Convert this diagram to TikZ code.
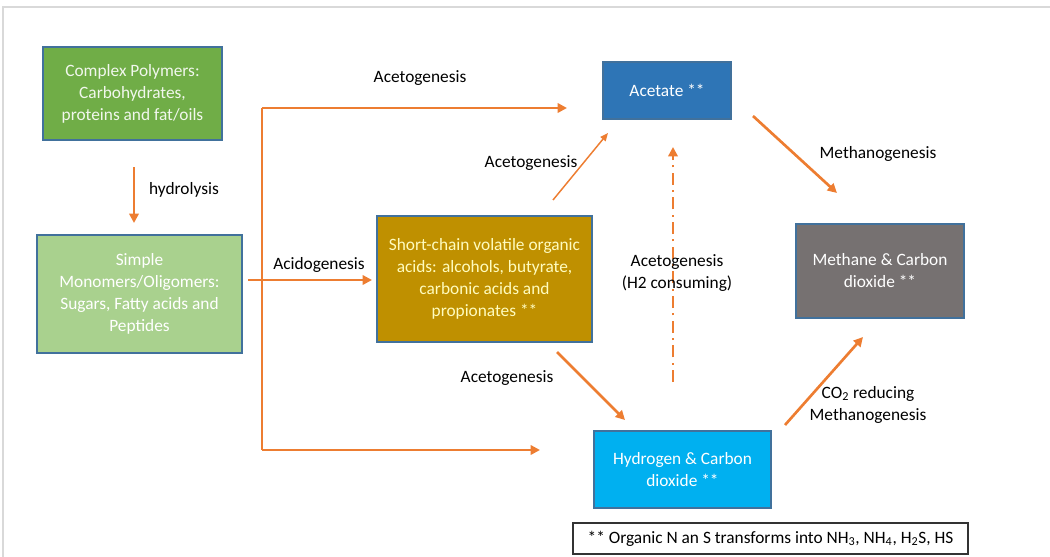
\documentclass[tikz,border=0pt]{standalone}
\usepackage{fontspec}
\setmainfont{Carlito}
\usetikzlibrary{arrows.meta}
\definecolor{flow}{HTML}{ED7D31}
\definecolor{edge}{HTML}{41719C}
\definecolor{polyG}{HTML}{70AD47}
\definecolor{monoG}{HTML}{A9D18E}
\definecolor{acidY}{HTML}{BF9000}
\definecolor{acetB}{HTML}{2E75B6}
\definecolor{methG}{HTML}{767171}
\definecolor{hydB}{HTML}{00B0F0}
\definecolor{frameG}{HTML}{D9D9D9}
\begin{document}
\begin{tikzpicture}[x=0.75pt,y=-0.75pt,
  every node/.style={font=\fontsize{13}{16.5}\selectfont, inner sep=0pt},
  stage/.style={draw=edge, line width=0.8pt, text=white, align=center},
  lbl/.style={text=black, align=center},
  flowline/.style={draw=flow, line width=2pt, -{Triangle[length=7pt,width=7pt]}},
  thinflow/.style={draw=flow, line width=1.1pt, -{Triangle[length=6pt,width=5pt]}}]
  \useasboundingbox (0,0) rectangle (1050,557);
  % outer frame
  \draw[frameG, line width=1.5pt] (3,557) -- (3,7) -- (1050,7);

  % stages
  \node[stage, fill=polyG, text=white!90!polyG, minimum width=134.25pt, minimum height=69.75pt] (poly) at (132.5,93.5)
    {Complex Polymers:\\Carbohydrates,\\proteins and fat/oils};
  \node[stage, fill=monoG, minimum width=153.75pt, minimum height=88.5pt] (mono) at (139.5,294)
    {Simple\\Monomers/Oligomers:\\Sugars, Fatty acids and\\Peptides};
  \node[stage, fill=acidY, text=yellow!25, minimum width=161.25pt, minimum height=94.5pt] (acid) at (484.5,279)
    {Short-chain volatile organic\\acids: alcohols, butyrate,\\carbonic acids and\\propionates **};
  \node[stage, fill=acetB, minimum width=96pt, minimum height=42.75pt] (acet) at (667,90.5) {Acetate **};
  \node[stage, fill=methG, minimum width=126pt, minimum height=70.5pt] (meth) at (880,271)
    {Methane \& Carbon\\dioxide **};
  \node[stage, fill=hydB, minimum width=132.75pt, minimum height=57.75pt] (hyd) at (682.5,469.5)
    {Hydrogen \& Carbon\\dioxide **};
  \node[draw=black!80, line width=1pt, minimum width=296.25pt, minimum height=23.25pt] (note) at (770.5,538.5)
    {** Organic N an S transforms into NH\textsubscript{3}, NH\textsubscript{4}, H\textsubscript{2}S, HS};

  % connector end points
  \coordinate (hydA) at (134,167);
  \coordinate (hydB) at (134,223);
  \coordinate (brT) at (262,108);
  \coordinate (brB) at (262,450);
  \coordinate (topTip) at (567,108);
  \coordinate (botTip) at (540,450);
  \coordinate (acidA) at (248,280);
  \coordinate (acidB) at (372,280);
  \coordinate (midA) at (553,200);
  \coordinate (midB) at (608,133);
  \coordinate (lowA) at (557,352);
  \coordinate (lowB) at (625,420);
  \coordinate (dashA) at (673,382);
  \coordinate (dashB) at (673,147);
  \coordinate (methA) at (753,116);
  \coordinate (methB) at (837,193);
  \coordinate (coA) at (785,425);
  \coordinate (coB) at (863,337);

  % connectors
  \draw[flowline] (hydA) -- (hydB);
  \draw[draw=flow, line width=2pt] (brT) -- (brB);
  \draw[flowline] (brT) -- (topTip);
  \draw[flowline] (brB) -- (botTip);
  \draw[flowline] (acidA) -- (acidB);
  \draw[thinflow] (midA) -- (midB);
  \draw[flowline] (lowA) -- (lowB);
  \draw[flowline, dash pattern=on 9pt off 4pt on 1.5pt off 4pt] (dashA) -- (dashB);
  \draw[flowline] (methA) -- (methB);
  \draw[flowline] (coA) -- (coB);

  % labels
  \node[lbl] (lHyd) at (184,190) {hydrolysis};
  \node[lbl] (lTop) at (420,78) {Acetogenesis};
  \node[lbl] (lMid) at (531,163) {Acetogenesis};
  \node[lbl] (lAcid) at (319,265) {Acidogenesis};
  \node[lbl] (lLow) at (507,378) {Acetogenesis};
  \node[lbl] (lH2) at (677,273) {Acetogenesis\\(H2 consuming)};
  \node[lbl] (lMeth) at (878,154) {Methanogenesis};
  \node[lbl] (lCO) at (868,405) {CO\textsubscript{2} reducing\\Methanogenesis};
\end{tikzpicture}
\end{document}
